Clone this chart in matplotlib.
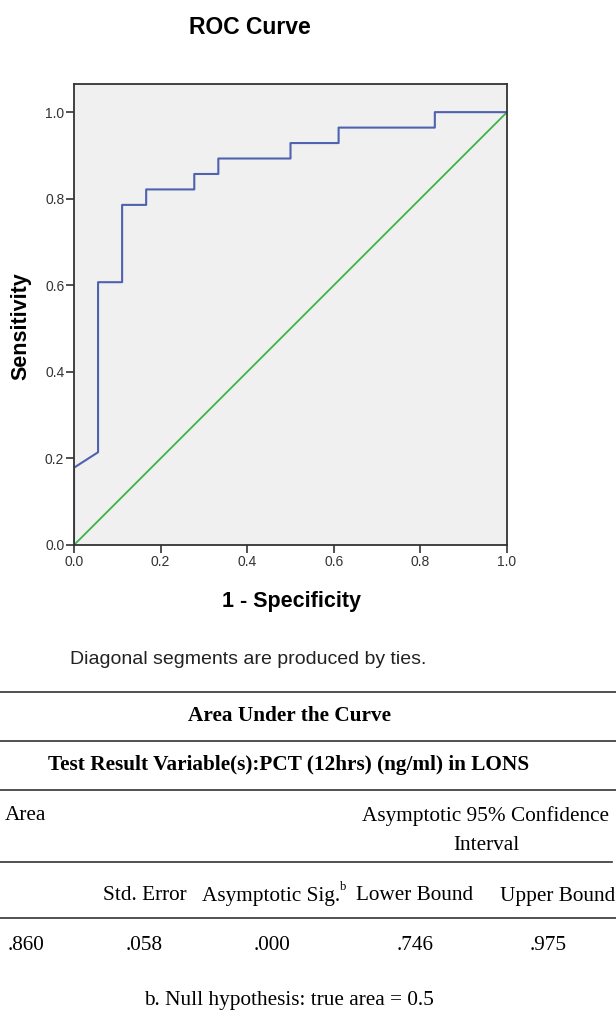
import matplotlib.pyplot as plt
from matplotlib.lines import Line2D

# ROC curve points (1 - specificity, sensitivity)
fpr = [0.0, 0.0, 1/18, 1/18, 2/18, 2/18, 3/18, 3/18, 5/18, 5/18, 6/18, 6/18,
       9/18, 9/18, 11/18, 11/18, 15/18, 15/18, 1.0]
tpr = [0.0, 5/28, 6/28, 17/28, 17/28, 22/28, 22/28, 23/28, 23/28, 24/28, 24/28, 25/28,
       25/28, 26/28, 26/28, 27/28, 27/28, 1.0, 1.0]

ticks = [0.0, 0.2, 0.4, 0.6, 0.8, 1.0]
tick_labels = ["0.0", "0.2", "0.4", "0.6", "0.8", "1.0"]

# AUC table
col_headers = ["Std. Error", "Asymptotic Sig.", "Lower Bound", "Upper Bound"]
row_values = [".860", ".058", ".000", ".746", ".975"]

W, H = 616, 1023
fig = plt.figure(figsize=(W / 100, H / 100), dpi=100)
fig.patch.set_facecolor("white")


def px(x, y):
    return x / W, 1 - y / H


sans = ["Liberation Sans", "DejaVu Sans"]
serif = ["Liberation Serif", "DejaVu Serif"]

# plot area
l, r, t, b = 74, 507, 84, 545
ax = fig.add_axes([l / W, 1 - b / H, (r - l) / W, (b - t) / H])
ax.set_facecolor("#f0f0f0")
ax.plot([0, 1], [0, 1], color="#3fb24a", lw=1.3)
ax.plot(fpr, tpr, color="#4f62b0", lw=1.5)
ax.set_xlim(0, 1)
ax.set_ylim(0, 1.065)
ax.set_xticks(ticks)
ax.set_xticklabels(tick_labels, family=sans, fontsize=10, color="#333333")
ax.set_yticks(ticks)
ax.set_yticklabels(tick_labels, family=sans, fontsize=10, color="#333333")
ax.tick_params(direction="out", length=6, width=1.2, color="#333333", pad=1)
for s in ax.spines.values():
    s.set_color("#333333")
    s.set_linewidth(1.3)

fig.text(*px(250, 27), "ROC Curve", family=sans, fontsize=16.5, fontweight="bold",
         ha="center", va="center")
fig.text(*px(21, 326), "Sensitivity", family=sans, fontsize=15.5, fontweight="bold",
         ha="center", va="center", rotation=90)
fig.text(*px(291, 601), "1 - Specificity", family=sans, fontsize=15.5, fontweight="bold",
         ha="center", va="center")
fig.text(*px(70, 659), "Diagonal segments are produced by ties.", family=sans,
         fontsize=14, ha="left", va="center", color="#222222")

# table rules
for y, x1 in [(692, 616), (741, 616), (790, 616), (862, 612), (918, 616)]:
    fig.add_artist(Line2D([0, x1 / W], [1 - y / H, 1 - y / H], color="#333333", lw=1.2))

fs = 15.3
fig.text(*px(289, 716), "Area Under the Curve", family=serif, fontsize=fs,
         fontweight="bold", ha="center", va="center")
fig.text(*px(289, 765), "Test Result Variable(s):PCT (12hrs) (ng/ml) in LONS", family=serif,
         fontsize=fs, fontweight="bold", ha="center", va="center")
fig.text(*px(5, 816), "Area", family=serif, fontsize=fs, ha="left", va="center")
fig.text(*px(486, 816), "Asymptotic 95% Confidence", family=serif, fontsize=fs,
         ha="center", va="center")
fig.text(*px(486, 845), "Interval", family=serif, fontsize=fs, ha="center", va="center")

hdr_x = [145, 271, 415, 558]
for x, h in zip(hdr_x, col_headers):
    fig.text(*px(x, 896), h, family=serif, fontsize=fs, ha="center", va="center")
fig.text(*px(340, 887), "b", family=serif, fontsize=9, ha="left", va="center")

val_x = [26, 144, 272, 415, 548]
for x, v in zip(val_x, row_values):
    fig.text(*px(x, 946), v, family=serif, fontsize=fs, ha="center", va="center")

fig.text(*px(289, 1001), "b. Null hypothesis: true area = 0.5", family=serif,
         fontsize=fs, ha="center", va="center")

fig.savefig("out.png", dpi=100)
